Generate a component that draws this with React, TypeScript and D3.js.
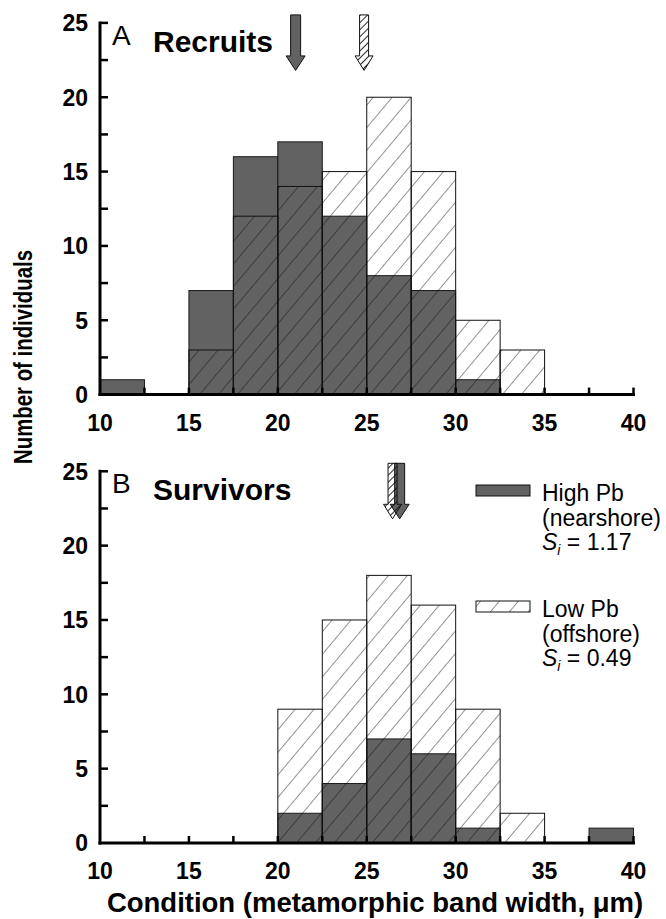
import { useRef, useEffect } from "react";
import * as d3 from "d3";

// bin starts (um), bins are 2.5 wide
const binStarts = [10, 12.5, 15, 17.5, 20, 22.5, 25, 27.5, 30, 32.5, 35, 37.5];
const recruitsHigh = [1, 0, 7, 16, 17, 12, 8, 7, 1, 0, 0, 0];
const recruitsLow = [0, 0, 3, 12, 14, 15, 20, 15, 5, 3, 0, 0];
const survivorsHigh = [0, 0, 0, 0, 2, 4, 7, 6, 1, 0, 0, 1];
const survivorsLow = [0, 0, 0, 0, 9, 15, 18, 16, 9, 2, 0, 0];
// mean condition arrows: [high Pb, low Pb]
const recruitsMeans = [21.0, 24.85];
const survivorsMeans = [26.85, 26.45];
const xTicks = [10, 15, 20, 25, 30, 35, 40];
const yTicks = [0, 5, 10, 15, 20, 25];
const minorTicks = d3.range(0, 25.01, 2.5);
const xMinor = d3.range(12.5, 40.01, 2.5);

const DARK = "#626262";
const FONT = "'Liberation Sans', Arial, Helvetica, sans-serif";

export default function App() {
  const ref = useRef<SVGSVGElement>(null);

  useEffect(() => {
    const svg = d3.select(ref.current);
    svg.selectAll("*").remove();

    const width = 666;
    const height = 919;
    svg.attr("width", width).attr("height", height);

    const defs = svg.append("defs");
    const addHatch = (id: string, spacing: number, angle: number, sw: number) => {
      const p = defs.append("pattern")
        .attr("id", id)
        .attr("patternUnits", "userSpaceOnUse")
        .attr("width", spacing)
        .attr("height", spacing)
        .attr("patternTransform", `rotate(${angle})`);
      p.append("line")
        .attr("x1", 0).attr("y1", -2)
        .attr("x2", 0).attr("y2", spacing + 2)
        .attr("stroke", "#111")
        .attr("stroke-width", sw);
    };
    addHatch("hatch", 14.5, 40, 0.9);
    addHatch("hatchArrow", 5, 45, 1.8);

    const x = d3.scaleLinear().domain([10, 40]).range([100, 633.5]);
    const binW = x(12.5) - x(10);

    const panels = [
      { id: "A", title: "Recruits", high: recruitsHigh, low: recruitsLow, means: recruitsMeans, top: 22.9, bottom: 394.6 },
      { id: "B", title: "Survivors", high: survivorsHigh, low: survivorsLow, means: survivorsMeans, top: 471.3, bottom: 843 }
    ];

    panels.forEach(panel => {
      const y = d3.scaleLinear().domain([0, 25]).range([panel.bottom, panel.top]);
      const g = svg.append("g");

      // dark bars first, hatched outline bars over them
      g.selectAll("rect.high")
        .data(binStarts.map((b, i) => ({ b, v: panel.high[i] })).filter(d => d.v > 0))
        .enter()
        .append("rect")
        .attr("class", "high")
        .attr("x", d => x(d.b))
        .attr("y", d => y(d.v))
        .attr("width", binW)
        .attr("height", d => y(0) - y(d.v))
        .attr("fill", DARK)
        .attr("stroke", "#1a1a1a")
        .attr("stroke-width", 1);

      g.selectAll("rect.low")
        .data(binStarts.map((b, i) => ({ b, v: panel.low[i] })).filter(d => d.v > 0))
        .enter()
        .append("rect")
        .attr("class", "low")
        .attr("x", d => x(d.b))
        .attr("y", d => y(d.v))
        .attr("width", binW)
        .attr("height", d => y(0) - y(d.v))
        .attr("fill", "url(#hatch)")
        .attr("stroke", "#111")
        .attr("stroke-width", 1);

      // axes
      g.append("line")
        .attr("x1", x(10)).attr("x2", x(10))
        .attr("y1", y(0)).attr("y2", y(25))
        .attr("stroke", "#000").attr("stroke-width", 3).attr("stroke-linecap", "square");
      g.append("line")
        .attr("x1", x(10)).attr("x2", x(40))
        .attr("y1", y(0)).attr("y2", y(0))
        .attr("stroke", "#000").attr("stroke-width", 3).attr("stroke-linecap", "square");

      g.selectAll("line.ytick")
        .data(minorTicks.filter(t => t > 0))
        .enter()
        .append("line")
        .attr("x1", x(10)).attr("x2", x(10) + 8)
        .attr("y1", d => y(d)).attr("y2", d => y(d))
        .attr("stroke", "#000").attr("stroke-width", 2.5);

      g.selectAll("line.xtick")
        .data(xMinor)
        .enter()
        .append("line")
        .attr("x1", d => x(d)).attr("x2", d => x(d))
        .attr("y1", y(0)).attr("y2", y(0) - 7)
        .attr("stroke", "#000").attr("stroke-width", 2.5);

      g.selectAll("text.ylab")
        .data(yTicks)
        .enter()
        .append("text")
        .attr("x", 88)
        .attr("y", d => y(d))
        .attr("dy", "0.36em")
        .attr("text-anchor", "end")
        .attr("font-family", FONT)
        .attr("font-weight", "bold")
        .attr("font-size", 23)
        .text(d => d);

      g.selectAll("text.xlab")
        .data(xTicks)
        .enter()
        .append("text")
        .attr("x", d => x(d))
        .attr("y", y(0) + 36)
        .attr("text-anchor", "middle")
        .attr("font-family", FONT)
        .attr("font-weight", "bold")
        .attr("font-size", 23)
        .text(d => d);

      // panel letter + title
      g.append("text")
        .attr("x", 112)
        .attr("y", panel.top + 22)
        .attr("font-family", FONT)
        .attr("font-size", 28)
        .text(panel.id);
      g.append("text")
        .attr("x", 153)
        .attr("y", panel.top + 29)
        .attr("font-family", FONT)
        .attr("font-weight", "bold")
        .attr("font-size", 30)
        .text(panel.title);

      // mean arrows (dark = high Pb, hatched = low Pb)
      const arrow = (cx: number, shaft: number, head: number) => {
        const t = panel.top - 8;
        const hy = panel.top + 33;
        const tip = panel.top + 47.5;
        return `M${cx - shaft},${t}L${cx + shaft},${t}L${cx + shaft},${hy}L${cx + head},${hy}L${cx},${tip}L${cx - head},${hy}L${cx - shaft},${hy}Z`;
      };
      g.append("path")
        .attr("d", arrow(x(panel.means[0]), 5, 9.5))
        .attr("fill", DARK)
        .attr("stroke", "#111")
        .attr("stroke-width", 1);
      g.append("path")
        .attr("d", arrow(x(panel.means[1]), 4.5, 9))
        .attr("fill", "url(#hatchArrow)")
        .attr("stroke", "#111")
        .attr("stroke-width", 1);
    });

    // y title
    svg.append("text")
      .attr("transform", "translate(32,357) rotate(-90)")
      .attr("text-anchor", "middle")
      .attr("font-family", FONT)
      .attr("font-weight", "bold")
      .attr("font-size", 25)
      .attr("textLength", 214)
      .attr("lengthAdjust", "spacingAndGlyphs")
      .text("Number of individuals");

    // x title
    svg.append("text")
      .attr("x", 375)
      .attr("y", 912)
      .attr("text-anchor", "middle")
      .attr("font-family", FONT)
      .attr("font-weight", "bold")
      .attr("font-size", 27.5)
      .text("Condition (metamorphic band width, \u03bcm)");

    // legend
    const legend = [
      { fill: DARK, lines: ["High Pb", "(nearshore)"], si: "1.17", top: 485 },
      { fill: "url(#hatch)", lines: ["Low Pb", "(offshore)"], si: "0.49", top: 601 }
    ];
    legend.forEach(item => {
      svg.append("rect")
        .attr("x", 476).attr("y", item.top)
        .attr("width", 54).attr("height", 11)
        .attr("fill", item.fill)
        .attr("stroke", "#111").attr("stroke-width", 1);
      const t = svg.append("text")
        .attr("font-family", FONT)
        .attr("font-size", 23);
      item.lines.forEach((ln, i) => {
        t.append("tspan").attr("x", 542).attr("y", item.top + 16 + i * 24.5).text(ln);
      });
      const sy = item.top + 16 + 2 * 24.5;
      t.append("tspan").attr("x", 542).attr("y", sy).attr("font-style", "italic").text("S");
      t.append("tspan").attr("y", sy + 5).attr("font-style", "italic").attr("font-size", 14).text("i");
      t.append("tspan").attr("y", sy).text(` = ${item.si}`);
    });
  }, []);

  return <svg ref={ref} style={{ position: "absolute", left: 0, top: 0 }}></svg>;
}
